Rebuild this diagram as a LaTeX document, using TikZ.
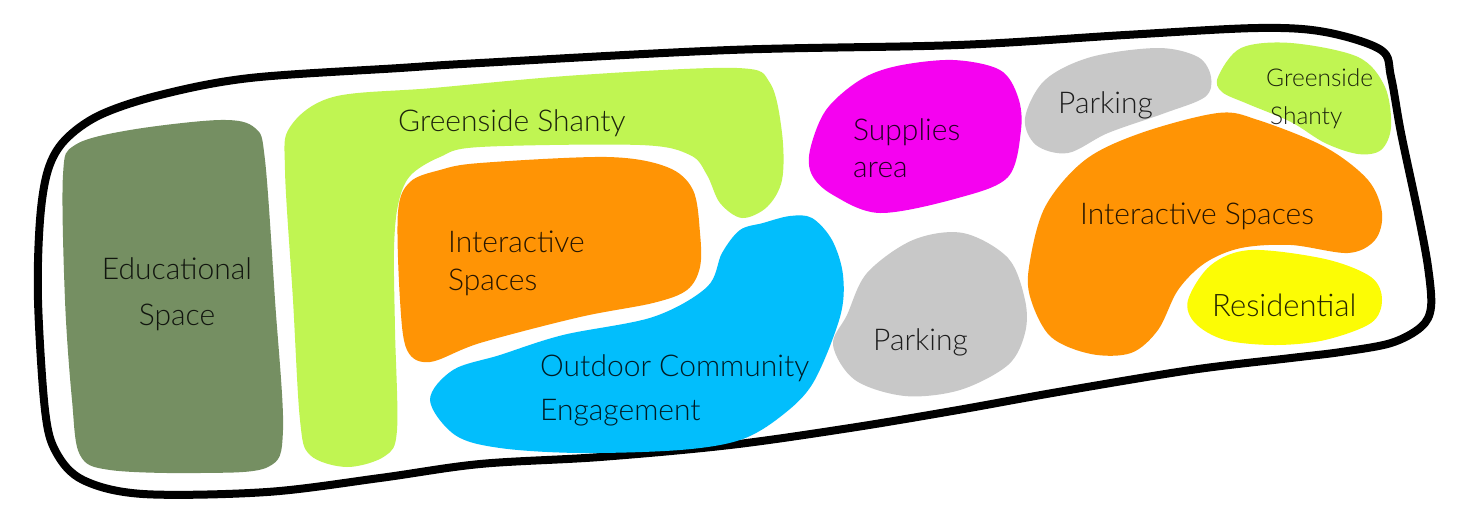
\documentclass[tikz,border=0pt]{standalone}
\usepackage{fontspec}
\IfFontExistsTF{Lato Light}{\setmainfont{Lato Light}}{\setmainfont{Lato}}
\definecolor{eduG}{RGB}{117,143,98}
\definecolor{limeG}{RGB}{192,245,82}
\definecolor{orng}{RGB}{255,148,5}
\definecolor{cyn}{RGB}{2,190,252}
\definecolor{mgnt}{RGB}{245,2,240}
\definecolor{gry}{RGB}{200,200,200}
\definecolor{ylw}{RGB}{252,252,5}
\tikzset{
  blob/.style={smooth cycle, tension=0.55},
  lbl/.style={anchor=west, inner sep=0pt, text=black, text opacity=0.85, font=\fontsize{30}{35}\selectfont, align=left},
  lblc/.style={lbl, anchor=center, align=center},
  smalllbl/.style={lbl, font=\fontsize{24.5}{28}\selectfont},
}
\begin{document}
\begin{tikzpicture}[x=1pt,y=-1pt]
\useasboundingbox (0,0) rectangle (1458,528);
\fill[white] (0,0) rectangle (1458,528);
% outline
\draw[line width=8pt, line join=round] plot[blob] coordinates {
 (38,300) (40,220) (48,170) (65,140) (100,115) (160,95) (250,78) (400,68) (480,63)
 (730,50) (958,45) (1125,35) (1258,28) (1325,32) (1381,50) (1391,77) (1401,133)
 (1418,213) (1428,267) (1431,307) (1421,327) (1391,343) (1341,352) (1291,358)
 (1191,370) (1058,392) (958,410) (850,428) (730,445) (600,457) (480,464)
 (380,478) (267,492) (143,494) (83,480) (56,452) (45,410)};
% educational
\fill[eduG] plot[blob] coordinates {
 (63,175) (75,145) (130,130) (220,120) (255,128) (265,160) (275,300) (283,430)
 (268,467) (200,473) (110,470) (80,455) (72,400) (65,300)};
% greenside big
\fill[limeG] plot[blob] coordinates {
 (290,127) (333,97) (433,88) (580,75) (737,68) (770,83) (782,133) (782,180)
 (767,207) (742,218) (720,203) (707,175) (690,155) (640,145) (480,147) (440,157)
 (410,176) (398,205) (394,250) (395,330) (397,430) (385,456) (347,467) (310,455) (300,420)
 (293,300) (285,170)};
% interactive left
\fill[orng] plot[blob] coordinates {
 (398,212) (410,182) (440,170) (480,163) (607,157) (667,167) (693,190) (700,233)
 (700,267) (687,290) (653,303) (580,317) (480,343) (430,362) (407,350) (400,300)};
% outdoor
\fill[cyn] plot[blob] coordinates {
 (430,400) (453,370) (500,355) (563,335) (653,317) (707,287) (722,253) (740,230)
 (763,223) (790,216) (812,218) (832,240) (843,275) (840,317) (813,383) (780,417)
 (740,440) (680,450) (580,453) (500,448) (455,435)};
% supplies
\fill[mgnt] plot[blob] coordinates {
 (810,150) (826,110) (860,80) (897,66) (953,60) (1000,70) (1018,97) (1021,130)
 (1008,177) (958,198) (880,213) (833,195) (812,175)};
% parking top
\fill[gry] plot[blob] coordinates {
 (1025,118) (1045,80) (1091,57) (1158,48) (1198,57) (1211,77) (1205,97) (1165,113)
 (1108,133) (1068,153) (1036,145)};
% greenside small
\fill[limeG] plot[blob] coordinates {
 (1218,77) (1241,48) (1291,43) (1358,57) (1385,87) (1391,127) (1381,150) (1358,154)
 (1325,143) (1291,122) (1248,104) (1222,92)};
% interactive right
\fill[orng] plot[blob] coordinates {
 (1029,267) (1045,207) (1085,160) (1141,133) (1218,113) (1258,120) (1325,147)
 (1368,180) (1382,213) (1375,240) (1348,253) (1291,245) (1241,248) (1205,263)
 (1178,290) (1158,330) (1131,353) (1091,354) (1051,337) (1031,300)};
% residential
\fill[ylw] plot[blob] coordinates {
 (1188,300) (1211,265) (1251,250) (1325,259) (1371,277) (1382,300) (1371,323)
 (1325,340) (1275,345) (1225,340) (1195,323)};
% parking bottom
\fill[gry] plot[blob] coordinates {
 (833,345) (847,315) (867,273) (913,240) (963,233) (1008,258) (1025,300)
 (1025,333) (1008,365) (960,390) (905,396) (855,380)};
% labels
\node[lblc] (edu) at (177,294) {Educational\\[11pt]Space};
\node[lbl] (gs1) at (398,123) {Greenside Shanty};
\node[lbl] (is1) at (448,263) {Interactive\\[3pt]Spaces};
\node[lbl] (oce) at (540,390) {Outdoor Community\\[9pt]Engagement};
\node[lbl] (sup) at (853,148) {Supplies\\[2pt]area};
\node[lbl] (pk1) at (1058,105) {Parking};
\node[smalllbl] (gs2a) at (1266,78) {Greenside};
\node[smalllbl] (gs2b) at (1270,118) {Shanty};
\node[lbl] (is2) at (1080,216) {Interactive Spaces};
\node[lbl, font=\fontsize{31}{36}\selectfont] (res) at (1212,305) {Residential};
\node[lbl] (pk2) at (873,342) {Parking};
\end{tikzpicture}
\end{document}
